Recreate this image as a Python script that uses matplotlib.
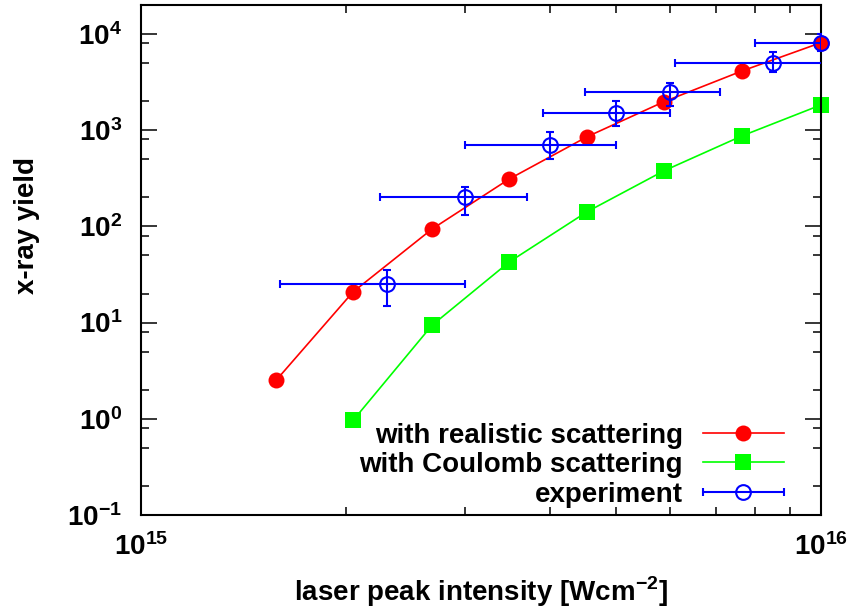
import numpy as np
import matplotlib
matplotlib.use('Agg')
from matplotlib import pyplot as plt
from matplotlib.ticker import LogLocator, NullFormatter
from matplotlib.legend_handler import HandlerErrorbar

plt.rcParams['font.family'] = 'Liberation Sans'
plt.rcParams['font.weight'] = 'bold'
plt.rcParams['axes.labelweight'] = 'bold'
plt.rcParams['mathtext.fontset'] = 'custom'
plt.rcParams['mathtext.rm'] = 'Liberation Sans:bold'
plt.rcParams['mathtext.bf'] = 'Liberation Sans:bold'

# simulation results (intensity in W/cm^2)
sim_x = [1.58e15, 2.05e15, 2.68e15, 3.48e15, 4.53e15, 5.88e15, 7.65e15, 1.0e16]
realistic_y = [2.51, 20.8, 94.0, 311, 855, 1980, 4120, 8120]
coulomb_x = sim_x[1:]
coulomb_y = [0.96, 9.4, 42.7, 142, 379, 871, 1830]

# experiment with asymmetric error bars
exp_x = [2.3e15, 3.0e15, 4.0e15, 5.0e15, 6.0e15, 8.5e15, 1.0e16]
exp_x_lo = [1.6e15, 2.25e15, 3.0e15, 3.9e15, 4.5e15, 6.1e15, 8.0e15]
exp_x_hi = [3.0e15, 3.7e15, 5.0e15, 6.0e15, 7.1e15, 11.8e15, 12.5e15]
exp_y = [25, 200, 700, 1500, 2500, 5000, 8000]
exp_y_lo = [15, 131, 502, 1106, 1785, 4000, 6600]
exp_y_hi = [35, 259, 958, 2026, 3073, 6450, 10000]

fs = 20
fig = plt.figure(figsize=(8.53, 6.12), dpi=100)
ax = fig.add_axes([141 / 853, 97 / 612, 680 / 853, 510 / 612])

ax.plot(coulomb_x, coulomb_y, '-s', color='#00ff00', lw=1.2, ms=11.5, mew=0,
        label='with Coulomb scattering', zorder=2, clip_on=False)
ax.plot(sim_x, realistic_y, '-o', color='#ff0000', lw=1.2, ms=11.5, mew=0,
        label='with realistic scattering', zorder=3, clip_on=False)

ex = np.array(exp_x)
ey = np.array(exp_y)
xerr = [ex - np.array(exp_x_lo), np.array(exp_x_hi) - ex]
yerr = [ey - np.array(exp_y_lo), np.array(exp_y_hi) - ey]
exp_h = ax.errorbar(exp_x, exp_y, xerr=xerr, fmt='o', color='#0000ff', mfc='none',
                    mec='#0000ff', ms=10.6, mew=1.5, elinewidth=1.5, capsize=3,
                    capthick=1.5, label='experiment', zorder=4)
exp_h[0].set_clip_on(False)
ax.errorbar(exp_x, exp_y, yerr=yerr, fmt='none', ecolor='#0000ff',
            elinewidth=1.5, capsize=3, capthick=1.5, zorder=4)

ax.set_xscale('log')
ax.set_yscale('log')
ax.set_xlim(1e15, 1e16)
ax.set_ylim(0.1, 2e4)

ax.xaxis.set_major_locator(LogLocator(base=10))
ax.xaxis.set_minor_locator(LogLocator(base=10, subs=np.arange(2, 10)))
ax.yaxis.set_major_locator(LogLocator(base=10, numticks=20))
ax.yaxis.set_minor_locator(LogLocator(base=10, subs=[2, 5, 8], numticks=20))
ax.xaxis.set_minor_formatter(NullFormatter())
ax.yaxis.set_minor_formatter(NullFormatter())

ax.tick_params(which='both', direction='in', top=True, right=True, width=1.1,
               labelsize=fs)
ax.tick_params(which='major', length=11.3)
ax.tick_params(which='minor', length=5.8)
ax.tick_params(axis='y', which='major', pad=13.5)
ax.tick_params(axis='x', which='major', pad=13)
for s in ax.spines.values():
    s.set_linewidth(1.5)

ax.set_xlabel(r'laser peak intensity [Wcm$^{\mathdefault{-2}}$]', fontsize=fs,
              labelpad=9.5)
ax.set_ylabel('x-ray yield', fontsize=fs)
ax.yaxis.set_label_coords(-0.1485, 0.567)

handles, labels = ax.get_legend_handles_labels()
order = [labels.index('with realistic scattering'),
         labels.index('with Coulomb scattering'),
         labels.index('experiment')]
leg = ax.legend([handles[i] for i in order], [labels[i] for i in order],
                loc='lower right', bbox_to_anchor=(0.9456, 0.0147),
                frameon=False, markerfirst=False, numpoints=1,
                handlelength=2.93, handletextpad=0.72, labelspacing=0.12,
                borderpad=0, borderaxespad=0, fontsize=fs,
                handler_map={exp_h: HandlerErrorbar(xerr_size=1.465)})

fig.savefig('out.png', dpi=100)
